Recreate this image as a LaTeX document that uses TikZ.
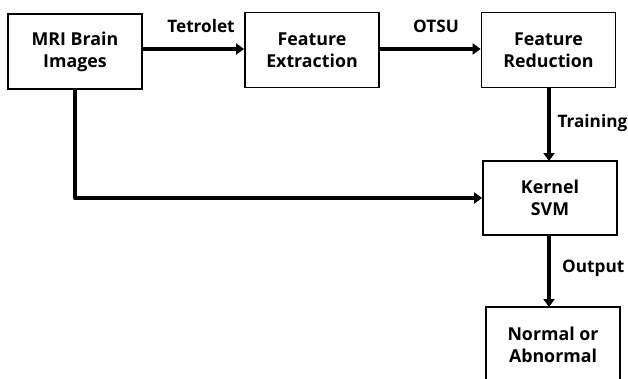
\documentclass[tikz,border=0pt]{standalone}
\usepackage{fontspec}
\setmainfont{Open Sans}
\usetikzlibrary{arrows.meta}
\begin{document}
\begin{tikzpicture}[x=1pt,y=-1pt,
  box/.style={draw, line width=1.8pt, minimum width=134pt, minimum height=75pt, align=center, inner sep=0pt,
    font=\fontsize{17.8}{22}\selectfont\bfseries},
  lbl/.style={font=\fontsize{17.2}{22}\selectfont\bfseries, inner sep=0pt},
  conn/.style={line width=4.5pt, -{Triangle[width=11pt,length=8pt]}}]
\clip (0,0) rectangle (628,378);
\useasboundingbox (0,0) rectangle (628,378);
\node[box] (mri) at (75,51.5) {MRI Brain\\Images};
\node[box] (fe) at (312,50) {Feature\\Extraction};
\node[box] (fr) at (548.5,50) {Feature\\Reduction};
\node[box, minimum height=74pt] (svm) at (550,198) {Kernel\\SVM};
\node[box] (out) at (553,344.5) {Normal or\\Abnormal};
\draw[conn] (mri.east |- 0,49) -- (fe.west |- 0,49);
\draw[conn] (fe.east |- 0,49) -- (fr.west |- 0,49);
\draw[conn] (549,88) -- (549,161);
\draw[conn] (549,235) -- (549,307);
\draw[line width=4.5pt, line join=round, -{Triangle[width=11pt,length=8pt]}] (mri.south) |- (svm.west);
\node[lbl, anchor=base] (t1) at (201,32) {Tetrolet};
\node[lbl, anchor=base] (t2) at (436,32) {OTSU};
\node[lbl, anchor=base east] (t3) at (627.5,127) {Training};
\node[lbl, anchor=base west] (t4) at (562,272) {Output};
\end{tikzpicture}
\end{document}
